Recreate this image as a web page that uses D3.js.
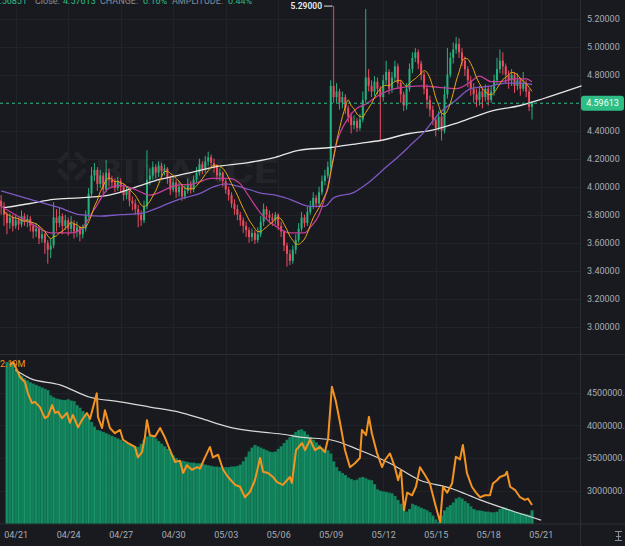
<!DOCTYPE html>
<html>
<head>
<meta charset="utf-8">
<script src="https://cdn.jsdelivr.net/npm/d3@7"></script>
<style>
body { margin: 0; background: #191a1f; overflow: hidden; }
text { font-family: Roboto, "DejaVu Sans", sans-serif; }
</style>
</head>
<body>
<div id="chart"></div>
<script>
// ---- data (4h candles, 04/20 04:00 -> 05/20 12:00) ----
const dateLabels = ["04/21", "04/24", "04/27", "04/30", "05/03", "05/06", "05/09", "05/12", "05/15", "05/18", "05/21"];
const priceTicks = [3.0, 3.2, 3.4, 3.6, 3.8, 4.0, 4.2, 4.4, 4.8, 5.0, 5.2];
const volTicks = [3.0, 3.5, 4.0, 4.5]; // millions

const firstOpen = 3.90;
const closes = [3.86,3.80,3.74,3.78, 3.72,3.76,3.73,3.79,3.75,3.77,3.72, 3.68,3.70,3.63,3.66,3.60,3.55, 3.58,3.78,3.74,
  3.79,3.72,3.76,3.70,3.74,3.68,3.71, 3.66,3.70, 3.80,3.95,4.08,4.12, 4.02,4.08,3.98,4.10,4.05, 4.03,3.99,4.04,4.00,
  3.94,3.97,3.90,3.88,3.84,3.80, 3.76,3.86,4.05, 4.08,4.14,4.10,4.15,4.11,4.13, 4.06,3.98,4.03,3.96,4.00,3.93,3.97,4.02,3.98,
  4.05,4.10,4.16,4.12,4.18,4.21,4.17, 4.14,4.08,4.10,4.04, 3.98,3.94,3.88,3.84,3.80,3.76,3.72,3.69, 3.64,3.67,3.62,3.66,
  3.75,3.84,3.80,3.78, 3.76,3.80,3.72,3.68, 3.58,3.52,3.47,3.55, 3.62,3.70,3.78,3.74,3.82, 3.86,3.92,3.88,3.96, 4.04,4.08,4.14,
  4.72, 4.64, 4.68,4.60,4.64,4.56, 4.50,4.44,4.47,4.42,4.48, 4.62,4.78, 4.72,4.68,4.75,4.70, 4.64,4.76,4.82,4.70,4.78,4.86,
  4.74,4.66,4.58,4.70, 4.84,4.92,4.96,4.88, 4.80,4.70,4.62,4.55, 4.48,4.42,4.50,4.40, 4.66,4.80,4.92, 4.98,5.02,4.96,4.90,
  4.84,4.76,4.70,4.66,4.62, 4.68,4.64,4.70,4.62,4.68, 4.76,4.84,4.90,4.86, 4.80,4.76,4.80,4.72, 4.76,4.70,4.74,4.68, 4.57, 4.596];
const highs = [3.94,3.89,3.82,3.81, 3.80,3.80,3.78,3.83,3.81,3.80,3.79, 3.74,3.74,3.72,3.69,3.67,3.62, 3.63,3.89,3.84,
  3.85,3.81,3.80,3.78,3.79,3.76,3.75, 3.72,3.73, 3.83,3.99,4.14,4.17, 4.14,4.12,4.10,4.19,4.13, 4.08,4.06,4.07,4.06,
  4.02,4.00,3.98,3.93,3.91,3.87, 3.83,3.90,4.26, 4.13,4.18,4.16,4.18,4.17,4.16, 4.14,4.08,4.07,4.05,4.04,4.02,4.01,4.06,4.04,
  4.08,4.14,4.20,4.18,4.22,4.25,4.23, 4.20,4.16,4.13,4.11, 4.06,4.00,3.96,3.91,3.87,3.82,3.78,3.75, 3.71,3.70,3.69,3.71,
  3.79,3.88,3.86,3.83, 3.81,3.82,3.81,3.75, 3.69,3.60,3.55,3.58, 3.66,3.74,3.82,3.80,3.86, 3.90,3.96,3.94,4.00, 4.08,4.12,4.18,
  4.76, 5.29, 4.74,4.70,4.68,4.66, 4.58,4.53,4.51,4.49,4.52, 4.68,5.27, 4.84,4.76,4.79,4.78, 4.72,4.80,4.90,4.84,4.82,4.90,
  4.88,4.76,4.68,4.74, 4.88,4.96,4.99,4.98, 4.90,4.82,4.73,4.65, 4.58,4.50,4.54,4.53, 4.72,4.99,4.96, 5.03,5.07,5.06,4.99,
  4.93,4.86,4.79,4.74,4.70, 4.72,4.71,4.73,4.72,4.72, 4.80,4.92,4.98,4.96, 4.88,4.83,4.84,4.82, 4.81,4.78,4.82,4.76, 4.70, 4.61];
const lows = [3.80,3.72,3.66,3.70, 3.68,3.70,3.69,3.71,3.72,3.71,3.68, 3.63,3.64,3.59,3.60,3.52,3.45, 3.49,3.56,3.68,
  3.71,3.66,3.69,3.65,3.67,3.63,3.64, 3.61,3.63, 3.68,3.78,3.93,4.04, 3.97,3.99,3.95,3.96,4.00, 3.99,3.96,3.97,3.96,
  3.90,3.91,3.86,3.83,3.80,3.71, 3.72,3.74,3.84, 4.01,4.05,4.06,4.07,4.07,4.08, 4.02,3.94,3.96,3.92,3.93,3.90,3.91,3.95,3.95,
  3.96,4.03,4.08,4.09,4.10,4.15,4.13, 4.10,4.05,4.04,4.00, 3.95,3.90,3.85,3.80,3.76,3.72,3.67,3.64, 3.60,3.61,3.59,3.60,
  3.64,3.72,3.77,3.74, 3.72,3.73,3.69,3.64, 3.54,3.43,3.44,3.45, 3.52,3.60,3.68,3.71,3.72, 3.80,3.84,3.85,3.86, 3.94,4.01,4.06,
  4.12, 4.60, 4.60,4.55,4.56,4.52, 4.46,4.38,4.41,4.39,4.40, 4.46,4.60, 4.68,4.64,4.65,4.66, 4.33,4.61,4.73,4.66,4.67,4.75,
  4.70,4.60,4.54,4.55, 4.68,4.81,4.89,4.84, 4.76,4.66,4.56,4.50, 4.44,4.36,4.40,4.33, 4.38,4.63,4.78, 4.88,4.95,4.92,4.86,
  4.79,4.71,4.65,4.60,4.57, 4.58,4.56,4.61,4.58,4.60, 4.65,4.73,4.81,4.80, 4.74,4.70,4.72,4.67, 4.69,4.65,4.68,4.64, 4.54, 4.48];

// moving averages: [candle index, price]
const maPink = [[0,3.86],[10,3.74],[17,3.67],[24,3.67],[27,3.69],[32,3.84],[37,3.99],[41,4.01],[46,3.98],[51,3.94],[60,4.01],
  [66,4.02],[72,4.06],[78,4.06],[82,4.02],[85,3.93],[89,3.81],[94,3.72],[99,3.67],[104,3.67],[106,3.71],[109,3.80],[112,4.00],
  [115,4.31],[119,4.49],[122,4.56],[125,4.59],[130,4.66],[135,4.70],[144,4.72],[150,4.71],[156,4.70],[161,4.75],[164,4.79],
  [168,4.75],[171,4.75],[176,4.77],[180,4.77],[182,4.75]];
const maPurple = [[0,3.97],[10,3.91],[20,3.85],[27,3.80],[34,3.79],[41,3.80],[48,3.81],[55,3.86],[61,3.91],[68,3.95],[73,4.00],
  [77,4.02],[80,4.01],[85,3.98],[90,3.95],[94,3.94],[99,3.91],[106,3.86],[111,3.86],[114,3.92],[121,3.96],[126,4.03],[132,4.14],
  [137,4.23],[140,4.29],[145,4.39],[150,4.52],[156,4.62],[161,4.70],[168,4.72],[173,4.74],[178,4.74],[182,4.73]];
const maWhite = [[1,3.85],[10,3.88],[18,3.91],[27,3.92],[37,3.94],[48,4.01],[54,4.05],[65,4.10],[73,4.14],[84,4.17],[94,4.21],
  [102,4.26],[113,4.28],[123,4.31],[130,4.33],[140,4.38],[147,4.40],[157,4.46],[168,4.54],[178,4.58],[186,4.63],[199,4.72]];

// lower pane (millions)
const greenVol = [null,null, 4.97,4.96,4.95, 4.84,4.80,4.76,4.72,4.69, 4.66,4.64,4.62,4.60,4.58,4.56,4.54, 4.46,4.43,
  4.41,4.40,4.39,4.39,4.40,4.38,4.37, 4.31,4.27,4.22,4.18,4.13, 4.05,3.98,3.93, 3.92,3.90,3.88,3.86,3.84,3.82, 3.80,3.78,3.75,
  3.73,3.71,3.70,3.68,3.67, 3.72,3.78,3.83,3.85,3.84,3.80,3.76,3.72,3.68, 3.64,3.59,3.54,3.50,3.47, 3.46,3.45,3.44,3.43,3.43,3.42,3.42,
  3.41,3.40,3.39,3.38,3.37,3.37,3.36,3.36, 3.36,3.36,3.37,3.37,3.38, 3.40,3.45,3.52,3.60,3.66, 3.70,3.68,3.66,3.64,3.62,3.60,3.59,
  3.60,3.64,3.68,3.73, 3.78,3.82,3.86,3.90,3.93,3.94, 3.91,3.86,3.82,3.78,3.74,3.70,3.66, 3.63,3.62,3.57, 3.45,3.36,3.30,
  3.27,3.24,3.20,3.18,3.16,3.17, 3.20,3.21,3.19,3.17,3.16,3.10, 3.02,3.00,2.99,2.98,2.97,2.96,2.92, 2.86,2.80,2.74,2.68,2.72,
  2.80,2.78,2.76,2.74,2.72,2.70,2.67, 2.62,2.56,2.52, 2.62,2.70,2.75,2.78,2.82, 2.88,2.90,2.88,2.84,2.81,
  2.76,2.72,2.70,2.70,2.69,2.68,2.68,2.67,2.67,2.68, 2.72,2.75,2.74,2.72,2.70,2.68,2.67, 2.66,2.65,2.64,2.63,2.70];
const orangeVol = [[3.1,4.92],[4.1,4.97],[5.1,4.88],[6.5,4.74],[8.2,4.66],[9.2,4.49],[10.6,4.34],[11.6,4.36],[13.3,4.28],[15,4.11],
  [16.1,4.14],[17.5,4.31],[18.5,4.19],[19.5,4.21],[20.9,4.11],[22.6,4.19],[23.6,4.04],[24.6,4.16],[26.4,3.97],[27.7,4.08],
  [29.4,4.19],[30.5,4.10],[32.8,4.49],[33.2,4.13],[34.6,3.96],[35.6,4.23],[37.3,3.96],[39,3.88],[40.8,3.93],[41.8,3.78],
  [43.5,3.73],[45.9,3.67],[46.9,3.51],[48.3,3.59],[49.3,3.82],[50,4.08],[51,3.85],[52.8,3.83],[54.5,3.96],[56.2,3.81],
  [57.9,3.62],[59.6,3.44],[61.3,3.46],[62.4,3.27],[63.7,3.39],[65.4,3.32],[67.2,3.36],[68.2,3.34],[69.9,3.51],[71.6,3.67],
  [72.6,3.51],[74.4,3.55],[76.1,3.32],[77.8,3.21],[80.2,3.09],[81.9,3.06],[83.6,2.90],[85.3,2.98],[87,3.16],[88.8,3.50],
  [89.8,3.29],[91.5,3.27],[93.2,3.21],[94.6,3.13],[96.6,3.09],[99,3.21],[99.7,3.12],[101.1,3.62],[103.2,3.73],[104.2,3.62],
  [105.9,3.78],[107.6,3.62],[109.3,3.67],[111,3.59],[112.1,3.80],[113.4,4.59],[114.8,4.36],[116.2,4.04],[117.9,3.62],
  [119.6,3.36],[121.3,3.42],[123,3.50],[123.7,3.93],[125.1,3.85],[126.1,4.13],[127.1,3.88],[128.9,3.57],[130.6,3.36],
  [131.6,3.47],[133.3,3.57],[135,3.36],[136.1,3.16],[137.1,3.32],[138.1,2.70],[139.2,2.97],[140.9,2.93],[142.2,3.06],
  [143.6,3.36],[145.3,3.24],[147,3.11],[148.7,2.81],[150.5,2.52],[151.5,3.06],[152.9,2.97],[154.6,3.11],[155.9,3.52],
  [157.3,3.48],[158.3,3.70],[159.7,3.27],[161.4,3.06],[162.8,2.97],[164.2,2.90],[165.9,2.93],[167.6,2.93],[168.6,3.11],
  [170,3.16],[171,3.21],[172.8,3.24],[173.4,3.29],[174.5,3.06],[176.2,3.01],[177.9,2.90],[179.6,2.86],[180.6,2.88],[182,2.78]];
const whiteVol = [[4.8,4.85],[9.9,4.72],[20.2,4.62],[30.5,4.43],[40.8,4.36],[51,4.28],[61.3,4.20],[68.2,4.11],[78.5,3.97],
  [88.8,3.90],[97.3,3.86],[102.5,3.82],[112.8,3.78],[123,3.62],[133.3,3.42],[143.6,3.16],[154,3.04],[164.2,2.86],[174.5,2.70],[185.1,2.55]];

const lastPrice = 4.59613;
const topHigh = 5.29;
const legendItems = [["4.56851", 27, "g"], ["Close:", 35, "l"], ["4.57613", 63, "g"], ["CHANGE:", 100, "l"],
  ["0.16%", 143, "g"], ["AMPLITUDE:", 172, "l"], ["0.44%", 228, "g"]];

// ---- layout ----
const W = 625, H = 546;
const axisX = 580;
const volBottom = 523.5;
const green = "#26b07e", red = "#ec4b60", gridColor = "#212329", lineColor = "#2b2e35", labelColor = "#a7adb5";

const t0 = new Date(2024, 3, 20, 4);
const tOf = i => new Date(+t0 + i * 4 * 3600e3);
const x = d3.scaleTime().domain([t0, tOf(182)]).range([1.1, 532]);
const xi = i => x(tOf(i));
const step = xi(1) - xi(0);
const y = d3.scaleLinear().domain([3.0, 5.2]).range([326.7, 18.7]);
const yv = d3.scaleLinear().domain([3.0, 4.5]).range([490.7, 392.7]);
const parseDate = s => d3.timeParse("%Y/%m/%d")("2024/" + s);
const dates = dateLabels.map(parseDate);

const svg = d3.select("#chart").append("svg")
    .attr("width", W).attr("height", H)
    .style("display", "block");

svg.append("rect").attr("width", W).attr("height", H).attr("fill", "#191a1f");

// grid
const grid = svg.append("g").attr("stroke", gridColor).attr("stroke-width", 1);
grid.selectAll(".gv").data(dates).join("line")
    .attr("x1", d => Math.round(x(d)) + 0.5).attr("x2", d => Math.round(x(d)) + 0.5)
    .attr("y1", 0).attr("y2", volBottom);
grid.selectAll(".gh").data(priceTicks).join("line")
    .attr("x1", 0).attr("x2", axisX)
    .attr("y1", d => Math.round(y(d)) + 0.5).attr("y2", d => Math.round(y(d)) + 0.5);
grid.selectAll(".gvol").data(volTicks).join("line")
    .attr("x1", 0).attr("x2", axisX)
    .attr("y1", d => Math.round(yv(d)) + 0.5).attr("y2", d => Math.round(yv(d)) + 0.5);

// watermark
const wm = svg.append("g").attr("fill", "#222429");
const logo = wm.append("g").attr("transform", "translate(72,166) rotate(45)");
logo.append("rect").attr("x", -4).attr("y", -4).attr("width", 8).attr("height", 8);
logo.append("rect").attr("x", -12).attr("y", -12).attr("width", 24).attr("height", 24)
    .attr("fill", "none").attr("stroke", "#222429").attr("stroke-width", 5)
    .attr("stroke-dasharray", "14,10").attr("stroke-dashoffset", -5);
wm.append("text").attr("x", 95).attr("y", 183)
    .attr("font-size", 34).attr("font-weight", 700)
    .attr("textLength", 183).attr("lengthAdjust", "spacingAndGlyphs")
    .text("BINANCE");

// pane separators
svg.append("line").attr("x1", 0).attr("x2", W).attr("y1", 354.5).attr("y2", 354.5).attr("stroke", lineColor);
svg.append("line").attr("x1", 0).attr("x2", W).attr("y1", volBottom + 0.5).attr("y2", volBottom + 0.5).attr("stroke", lineColor);
svg.append("line").attr("x1", axisX + 0.5).attr("x2", axisX + 0.5).attr("y1", 0).attr("y2", H).attr("stroke", lineColor);

// ---- lower pane ----
const volBars = svg.append("g");
const volData = greenVol.map((v, i) => ({ i, v })).filter(d => d.v != null);
volBars.selectAll("rect").data(volData).join("rect")
    .attr("x", d => xi(d.i) - step / 2)
    .attr("width", step + 0.2)
    .attr("y", d => yv(d.v))
    .attr("height", d => volBottom - yv(d.v))
    .attr("fill", "#12805a");
volBars.selectAll("line").data(volData.filter(d => d.i % 2 == 0)).join("line")
    .attr("x1", d => xi(d.i)).attr("x2", d => xi(d.i))
    .attr("y1", d => yv(d.v) + 1).attr("y2", volBottom)
    .attr("stroke", "#22a676").attr("stroke-width", 0.7).attr("opacity", 0.8);

const volLine = d3.line().x(d => xi(d[0])).y(d => yv(d[1]));
svg.append("path").attr("d", volLine.curve(d3.curveMonotoneX)(whiteVol))
    .attr("fill", "none").attr("stroke", "#d8d8d8").attr("stroke-width", 1.2);
svg.append("path").attr("d", volLine.curve(d3.curveLinear)(orangeVol))
    .attr("fill", "none").attr("stroke", "#f39422").attr("stroke-width", 2).attr("stroke-linejoin", "round");

svg.append("text").attr("x", 0).attr("y", 367)
    .attr("font-size", 9).attr("fill", "#f39422")
    .text("2.19M");

// ---- candles ----
const candles = closes.map((c, i) => ({ i, o: i ? closes[i - 1] : firstOpen, c, h: highs[i], l: lows[i] }));
const cg = svg.append("g");
cg.selectAll("line").data(candles).join("line")
    .attr("x1", d => xi(d.i)).attr("x2", d => xi(d.i))
    .attr("y1", d => y(d.h)).attr("y2", d => y(d.l))
    .attr("stroke", d => d.c >= d.o ? green : red).attr("stroke-width", 1);
cg.selectAll("rect").data(candles).join("rect")
    .attr("x", d => xi(d.i) - 1)
    .attr("width", 2)
    .attr("y", d => y(Math.max(d.o, d.c)))
    .attr("height", d => Math.max(1, Math.abs(y(d.o) - y(d.c))))
    .attr("fill", d => d.c >= d.o ? green : red);

// moving averages
const ma7 = closes.map((c, i) => [i, d3.mean(closes.slice(Math.max(0, i - 6), i + 1))]).slice(1);
const priceLine = d3.line().x(d => xi(d[0])).y(d => y(d[1])).curve(d3.curveMonotoneX);
svg.append("path").attr("d", priceLine(maWhite)).attr("fill", "none").attr("stroke", "#e6e6e6").attr("stroke-width", 1.3);
svg.append("path").attr("d", priceLine(maPurple)).attr("fill", "none").attr("stroke", "#7e58c2").attr("stroke-width", 1.3);
svg.append("path").attr("d", priceLine(maPink)).attr("fill", "none").attr("stroke", "#c23d99").attr("stroke-width", 1.3);
svg.append("path").attr("d", priceLine(ma7)).attr("fill", "none").attr("stroke", "#e8a911").attr("stroke-width", 1);

// high marker
const hiIdx = highs.indexOf(topHigh);
svg.append("line").attr("x1", 324).attr("x2", xi(hiIdx) - 1)
    .attr("y1", y(topHigh)).attr("y2", y(topHigh))
    .attr("stroke", "#dfe2e6").attr("stroke-width", 1);
svg.append("text").attr("x", 322).attr("y", y(topHigh) + 3)
    .attr("text-anchor", "end").attr("font-size", 8.5).attr("font-weight", 600)
    .attr("fill", "#eaecef").text(d3.format(".5f")(topHigh));

// last price line + label
svg.append("line").attr("x1", 0).attr("x2", axisX)
    .attr("y1", y(lastPrice)).attr("y2", y(lastPrice))
    .attr("stroke", "#2ebd85").attr("stroke-dasharray", "3,3").attr("stroke-width", 1);
svg.append("rect").attr("x", 581).attr("y", y(lastPrice) - 7.5)
    .attr("width", 43).attr("height", 15).attr("rx", 3).attr("fill", "#2ebd85");
svg.append("text").attr("x", 602.5).attr("y", y(lastPrice) + 3)
    .attr("text-anchor", "middle").attr("font-size", 9).attr("fill", "#f4fff9")
    .text(d3.format(".5f")(lastPrice));

// ---- axes ----
const priceAxis = svg.append("g")
    .attr("transform", `translate(${axisX},0)`)
    .call(d3.axisRight(y).tickValues(priceTicks).tickSize(0).tickPadding(7).tickFormat(d3.format(".5f")));
priceAxis.select(".domain").remove();
priceAxis.attr("font-family", null).attr("font-size", null);
priceAxis.selectAll("text").attr("fill", labelColor).attr("font-size", 9);

const volAxis = svg.append("g")
    .attr("transform", `translate(${axisX},0)`)
    .call(d3.axisRight(yv).tickValues(volTicks.slice(0).reverse()).tickSize(0).tickPadding(7)
        .tickFormat(d => d3.format(".2f")(d * 1e6)));
volAxis.select(".domain").remove();
volAxis.attr("font-family", null).attr("font-size", null);
volAxis.selectAll("text").attr("fill", labelColor).attr("font-size", 9);

const timeAxis = svg.append("g")
    .attr("transform", `translate(0,${volBottom})`)
    .call(d3.axisBottom(x).tickValues(dates).tickSize(0).tickPadding(8).tickFormat(d3.timeFormat("%m/%d")));
timeAxis.select(".domain").remove();
timeAxis.attr("font-family", null).attr("font-size", null);
timeAxis.selectAll("text").attr("fill", labelColor).attr("font-size", 9);

// top legend (cut by the window edge)
svg.append("g").selectAll("text").data(legendItems).join("text")
    .attr("x", d => d[1]).attr("y", 3.5)
    .attr("text-anchor", (d, i) => i == 0 ? "end" : "start")
    .attr("font-size", 9)
    .attr("fill", d => d[2] == "g" ? "#2ebd85" : "#848e9c")
    .text(d => d[0]);

// small scale icon bottom right
const icon = svg.append("g").attr("stroke", "#848e9c").attr("stroke-width", 1);
icon.append("line").attr("x1", 618.5).attr("x2", 618.5).attr("y1", 531).attr("y2", 541);
icon.append("line").attr("x1", 615).attr("x2", 622).attr("y1", 531.5).attr("y2", 531.5);
icon.append("line").attr("x1", 615).attr("x2", 622).attr("y1", 540.5).attr("y2", 540.5);
icon.append("line").attr("x1", 616).attr("x2", 621).attr("y1", 536.5).attr("y2", 536.5);
</script>
</body>
</html>
